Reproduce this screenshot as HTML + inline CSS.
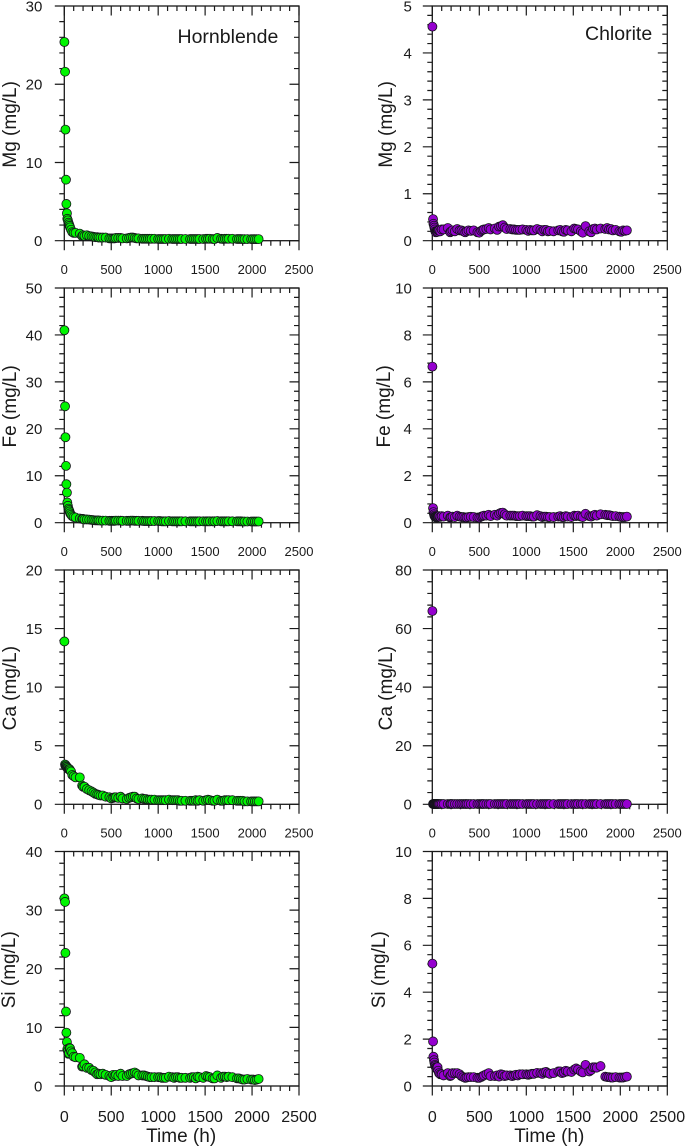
<!DOCTYPE html>
<html lang="en">
<head>
<meta charset="utf-8">
<title>Hornblende and Chlorite dissolution time series</title>
<style>
html,body{margin:0;padding:0;background:#fff;}
#figure{display:block;width:685px;height:1148px;}
text{font-family:"Liberation Sans",Arial,sans-serif;fill:#1a1a1a;}
</style>
</head>
<body>
<svg id="figure" xmlns="http://www.w3.org/2000/svg" width="685" height="1148" viewBox="0 0 685 1148">
<text x="177.5" y="43" font-size="19.5">Hornblende</text>
<text x="585" y="40" font-size="19.5">Chlorite</text>
</svg>
<script>
const timeHours = [
1,8,12,18,22,28,32,38,44,50,
56,62,72,85,100,120,165,190,200,215,
240,265,290,310,330,350,365,385,410,440,
480,500,520,535,550,575,600,620,665,690,
710,730,750,770,790,830,850,870,890,910,
930,960,1000,1020,1040,1060,1080,1115,1150,1170,
1190,1210,1230,1250,1290,1340,1360,1380,1400,1420,
1440,1480,1510,1530,1550,1580,1600,1630,1670,1690,
1710,1730,1750,1790,1840,1860,1880,1900,1920,1950,
1990,2010,2030,2050,2070];

const hornblendeMg = [
25.4,21.6,14.2,7.8,4.7,3.5,2.8,2.6,2.3,2.1,
1.9,1.7,1.4,1.1,1.0,1.0,0.9,0.6,0.7,0.6,
0.7,0.6,0.55,0.5,0.45,0.45,0.4,0.4,0.4,0.4,
0.3,0.3,0.3,0.3,0.35,0.35,0.35,0.3,0.3,0.35,
0.4,0.4,0.35,0.3,0.3,0.25,0.25,0.25,0.25,0.25,
0.25,0.25,0.22,0.22,0.22,0.22,0.22,0.25,0.22,0.22,
0.22,0.22,0.22,0.22,0.22,0.22,0.22,0.22,0.22,0.22,
0.22,0.22,0.25,0.25,0.25,0.22,0.2,0.35,0.25,0.22,
0.25,0.25,0.25,0.25,0.22,0.22,0.22,0.2,0.2,0.2,
0.2,0.2,0.2,0.2,0.2];

const hornblendeFe = [
41,24.8,18.2,12.1,8.2,6.4,4.3,3.6,3.0,2.7,
2.4,2.0,1.7,1.4,1.2,1.1,0.9,0.8,0.8,0.7,
0.7,0.65,0.6,0.55,0.5,0.5,0.5,0.45,0.45,0.45,
0.4,0.4,0.4,0.4,0.45,0.45,0.45,0.4,0.4,0.4,
0.45,0.45,0.4,0.4,0.4,0.4,0.35,0.35,0.35,0.35,
0.35,0.35,0.35,0.35,0.3,0.3,0.3,0.35,0.3,0.3,
0.3,0.3,0.3,0.3,0.3,0.3,0.3,0.3,0.3,0.3,
0.3,0.3,0.3,0.3,0.3,0.3,0.3,0.35,0.3,0.3,
0.3,0.3,0.3,0.3,0.3,0.3,0.3,0.25,0.25,0.25,
0.25,0.25,0.25,0.25,0.25];

const hornblendeCa = [
13.9,3.4,3.3,3.3,3.2,3.2,3.1,3.1,3.0,3.0,
3.0,2.9,2.8,2.5,2.4,2.3,2.3,1.6,1.5,1.5,
1.3,1.2,1.1,1.0,0.9,0.85,0.8,0.75,0.75,0.65,
0.6,0.5,0.55,0.6,0.6,0.55,0.65,0.5,0.45,0.55,
0.6,0.65,0.65,0.5,0.45,0.5,0.45,0.45,0.4,0.4,
0.4,0.4,0.35,0.35,0.35,0.35,0.35,0.4,0.35,0.35,
0.35,0.35,0.3,0.3,0.3,0.3,0.3,0.3,0.35,0.3,
0.35,0.3,0.35,0.4,0.35,0.3,0.3,0.4,0.3,0.3,
0.35,0.35,0.35,0.35,0.3,0.3,0.3,0.3,0.25,0.25,
0.25,0.25,0.25,0.25,0.25];

const hornblendeSi = [
32,31.4,22.7,12.7,9.1,7.5,6.3,6.0,5.5,5.6,
6.5,6.4,5.9,5.6,5.0,4.9,4.8,3.3,3.4,3.7,
3.1,3.1,2.7,2.6,2.3,2.0,2.1,2.0,2.1,1.9,
1.7,1.5,1.9,1.7,1.9,1.7,2.1,1.7,1.7,2.0,
2.1,2.2,2.3,2.1,1.8,1.8,1.8,1.7,1.6,1.5,
1.5,1.5,1.5,1.5,1.4,1.4,1.4,1.6,1.5,1.4,
1.5,1.5,1.4,1.4,1.4,1.4,1.5,1.5,1.3,1.6,
1.5,1.4,1.7,1.6,1.5,1.3,1.3,1.8,1.4,1.6,
1.6,1.5,1.6,1.5,1.3,1.3,1.2,1.1,1.1,1.2,
1.1,1.1,1.0,1.1,1.2];

const chloriteMg = [
4.56,0.46,0.36,0.32,0.28,0.24,0.2,0.18,0.2,0.2,
0.19,0.22,0.22,0.2,0.24,0.24,0.27,0.18,0.2,0.22,
0.2,0.25,0.22,0.22,0.2,0.18,0.2,0.22,0.21,0.22,
0.18,0.17,0.21,0.23,0.24,0.25,0.27,0.24,0.26,0.23,
0.3,0.31,0.33,0.28,0.25,0.25,0.24,0.24,0.23,0.23,
0.23,0.24,0.23,0.21,0.23,0.22,0.22,0.25,0.23,0.2,
0.23,0.23,0.2,0.21,0.2,0.22,0.23,0.2,0.19,0.23,
0.22,0.2,0.26,0.25,0.24,0.2,0.17,0.31,0.2,0.18,
0.25,0.26,0.24,0.26,0.25,0.27,0.24,0.25,0.22,0.23,
0.2,0.19,0.22,0.21,0.22];

const chloriteFe = [
6.65,0.62,0.45,0.36,0.3,0.26,0.24,0.24,0.22,0.22,
0.24,0.26,0.28,0.25,0.28,0.26,0.3,0.22,0.24,0.26,
0.24,0.3,0.26,0.24,0.24,0.22,0.22,0.24,0.25,0.24,
0.22,0.22,0.26,0.28,0.3,0.3,0.34,0.28,0.34,0.3,
0.38,0.42,0.43,0.36,0.3,0.3,0.3,0.3,0.28,0.28,
0.28,0.3,0.28,0.28,0.28,0.26,0.26,0.32,0.28,0.24,
0.26,0.26,0.24,0.24,0.24,0.26,0.28,0.24,0.24,0.28,
0.26,0.24,0.3,0.28,0.3,0.26,0.24,0.38,0.28,0.26,
0.3,0.34,0.3,0.36,0.34,0.32,0.32,0.3,0.28,0.28,
0.26,0.24,0.24,0.24,0.26];

const chloriteCa = [
66,0.1,0.1,0.1,0.1,0.1,0.1,0.1,0.1,0.1,
0.1,0.1,0.1,0.1,0.1,0.1,0.1,0.1,0.1,0.1,
0.1,0.1,0.1,0.1,0.1,0.1,0.1,0.1,0.1,0.1,
0.1,0.1,0.1,0.1,0.1,0.1,0.1,0.1,0.1,0.1,
0.1,0.1,0.1,0.1,0.1,0.1,0.1,0.1,0.1,0.1,
0.1,0.1,0.1,0.1,0.1,0.1,0.1,0.1,0.1,0.1,
0.1,0.1,0.1,0.1,0.1,0.1,0.1,0.1,0.1,0.1,
0.1,0.1,0.1,0.1,0.1,0.1,0.1,0.1,0.1,0.1,
0.1,0.1,0.1,0.1,0.1,0.1,0.1,0.1,0.1,0.1,
0.1,0.1,0.1,0.1,0.1];

const chloriteSi = [
5.22,1.9,1.25,1.1,1.0,0.9,0.85,0.8,0.75,0.8,
0.8,0.65,0.55,0.5,0.5,0.45,0.55,0.42,0.45,0.55,
0.55,0.55,0.5,0.42,0.38,0.35,0.36,0.38,0.38,0.38,
0.35,0.35,0.38,0.42,0.45,0.5,0.55,0.42,0.42,0.45,
0.4,0.5,0.48,0.42,0.45,0.45,0.42,0.45,0.48,0.45,
0.5,0.5,0.5,0.48,0.5,0.52,0.52,0.56,0.55,0.52,
0.58,0.6,0.55,0.52,0.55,0.62,0.62,0.55,0.58,0.65,
0.62,0.6,0.7,0.75,0.7,0.62,0.58,0.9,0.62,0.68,
0.8,0.8,0.78,0.85,0.4,0.38,0.38,0.36,0.36,0.38,
0.36,0.36,0.36,0.38,0.4];

const xTickValues = [0,500,1000,1500,2000,2500];
const yTicksHornblendeMg = [0,10,20,30];
const yTicksHornblendeFe = [0,10,20,30,40,50];
const yTicksHornblendeCa = [0,5,10,15,20];
const yTicksHornblendeSi = [0,10,20,30,40];
const yTicksChloriteMg = [0,1,2,3,4,5];
const yTicksChloriteFe = [0,2,4,6,8,10];
const yTicksChloriteCa = [0,20,40,60,80];
const yTicksChloriteSi = [0,2,4,6,8,10];

const NS = 'http://www.w3.org/2000/svg';
const svg = document.getElementById('figure');
const GREEN = '#00f500';
const PURPLE = '#9500cf';
const INK = '#1a1a1a';
const COL_LEFT = {x0:64.3, x1:299, labelX:42.3};
const COL_RIGHT = {x0:432.3, x1:667.3, labelX:411.8};

function make(tag, attrs, parent){
  const el = document.createElementNS(NS, tag);
  for (const k in attrs) el.setAttribute(k, attrs[k]);
  (parent || svg).appendChild(el);
  return el;
}

function drawPanel(p){
  const xMax = xTickValues[xTickValues.length-1];
  const yTicks = p.yTicks;
  const yMax = yTicks[yTicks.length-1];
  const xs = t => p.col.x0 + (t / xMax) * (p.col.x1 - p.col.x0);
  const ys = v => p.bottom - (v / yMax) * (p.bottom - p.top);

  const g = make('g', {});
  
  

  const frame = make('rect', {x:p.col.x0, y:p.top, width:p.col.x1-p.col.x0, height:p.bottom-p.top, fill:'none', stroke:INK, 'stroke-width':1.3}, g);
  
  

  const xStep = xTickValues[1] - xTickValues[0];
  const xMinorStep = xStep / 5;
  let ticks = '';
  for (let i = 0; i * xMinorStep <= xMax + 1e-9; i++){
    const major = i % 5 === 0;
    const x = xs(i * xMinorStep);
    const len = major ? 9.5 : 5;
    ticks += 'M' + x + ' ' + p.bottom + 'V' + (p.bottom + len);
    ticks += 'M' + x + ' ' + p.top + 'V' + (p.top + len);
  }
  const yStep = yTicks[1] - yTicks[0];
  const yMinorStep = yStep / 5;
  const yCount = Math.round(yMax / yMinorStep);
  for (let i = 0; i <= yCount; i++){
    const major = i % 5 === 0;
    const y = ys(i * yMinorStep);
    const len = major ? 9.5 : 5;
    ticks += 'M' + p.col.x0 + ' ' + y + 'H' + (p.col.x0 - len);
    ticks += 'M' + p.col.x1 + ' ' + y + 'H' + (p.col.x1 - len);
  }
  const tickPath = make('path', {d:ticks, fill:'none', stroke:INK, 'stroke-width':1.2}, g);
  
  

  xTickValues.forEach(function(v){
    const t = make('text', {x:xs(v), y:p.bottom + p.xLabelOffset, 'font-size':p.xLabelSize, 'text-anchor':'middle'}, g);
    t.textContent = String(v);
    
    
  });

  yTicks.forEach(function(v){
    const t = make('text', {x:p.col.labelX, y:ys(v) + 5.4, 'font-size':15, 'text-anchor':'end'}, g);
    t.textContent = String(v);
    
    
  });

  const cy = (p.top + p.bottom) / 2 + 1;
  const title = make('text', {x:p.titleX, y:cy, 'font-size':19, 'text-anchor':'middle', transform:'rotate(-90 ' + p.titleX + ' ' + cy + ')'}, g);
  title.textContent = p.yTitle;
  
  

  if (p.xTitle){
    const xt = make('text', {x:(p.col.x0 + p.col.x1) / 2 - 0.5, y:p.bottom + 56, 'font-size':19, 'text-anchor':'middle'}, g);
    xt.textContent = p.xTitle;
    
    
  }

  timeHours.forEach(function(t, i){
    const c = make('circle', {cx:xs(t), cy:ys(p.values[i]), r:4.5, fill:p.color, stroke:'#14141a', 'stroke-width':0.8}, g);
    
    
  });
}

drawPanel({name:'hornblende-mg', col:COL_LEFT, top:6, bottom:240.7, yTicks:yTicksHornblendeMg, values:hornblendeMg, color:GREEN, yTitle:'Mg (mg/L)', titleX:16, xLabelSize:13, xLabelOffset:33.3});
drawPanel({name:'hornblende-fe', col:COL_LEFT, top:288, bottom:522.7, yTicks:yTicksHornblendeFe, values:hornblendeFe, color:GREEN, yTitle:'Fe (mg/L)', titleX:16, xLabelSize:13, xLabelOffset:33.3});
drawPanel({name:'hornblende-ca', col:COL_LEFT, top:570, bottom:804.3, yTicks:yTicksHornblendeCa, values:hornblendeCa, color:GREEN, yTitle:'Ca (mg/L)', titleX:16, xLabelSize:13, xLabelOffset:33.3});
drawPanel({name:'hornblende-si', col:COL_LEFT, top:851.5, bottom:1086, yTicks:yTicksHornblendeSi, values:hornblendeSi, color:GREEN, yTitle:'Si (mg/L)', titleX:15, xLabelSize:16, xLabelOffset:36, xTitle:'Time (h)'});
drawPanel({name:'chlorite-mg', col:COL_RIGHT, top:6, bottom:240.7, yTicks:yTicksChloriteMg, values:chloriteMg, color:PURPLE, yTitle:'Mg (mg/L)', titleX:392, xLabelSize:13, xLabelOffset:33.3});
drawPanel({name:'chlorite-fe', col:COL_RIGHT, top:288, bottom:522.7, yTicks:yTicksChloriteFe, values:chloriteFe, color:PURPLE, yTitle:'Fe (mg/L)', titleX:390, xLabelSize:13, xLabelOffset:33.3});
drawPanel({name:'chlorite-ca', col:COL_RIGHT, top:570, bottom:804.3, yTicks:yTicksChloriteCa, values:chloriteCa, color:PURPLE, yTitle:'Ca (mg/L)', titleX:392, xLabelSize:13, xLabelOffset:33.3});
drawPanel({name:'chlorite-si', col:COL_RIGHT, top:851.5, bottom:1086, yTicks:yTicksChloriteSi, values:chloriteSi, color:PURPLE, yTitle:'Si (mg/L)', titleX:385, xLabelSize:16, xLabelOffset:36, xTitle:'Time (h)'});
</script>
</body>
</html>
